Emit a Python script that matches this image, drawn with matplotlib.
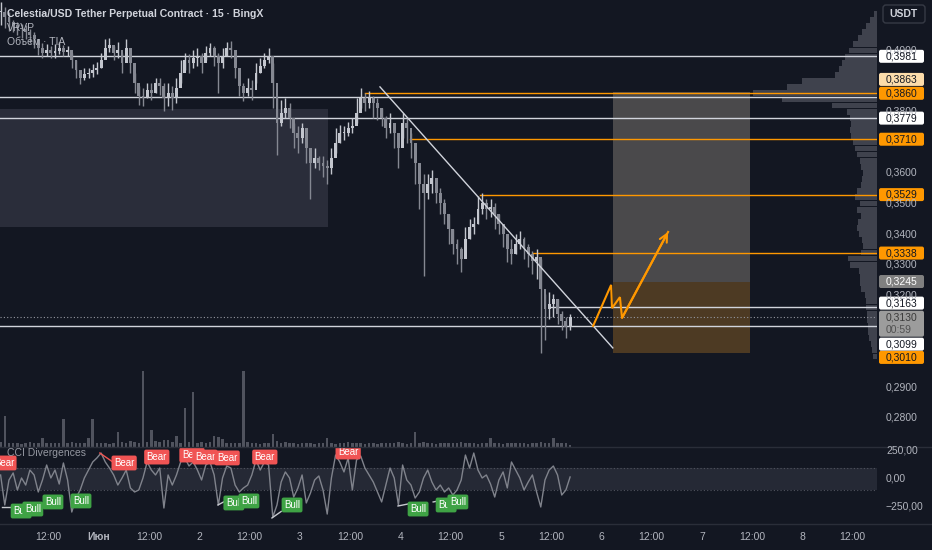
import numpy as np
import matplotlib
matplotlib.use("Agg")
import matplotlib.pyplot as plt
from matplotlib.patches import Rectangle, FancyBboxPatch

plt.rcParams['font.family'] = ['Liberation Sans', 'DejaVu Sans']

W, H, DPI = 932, 550, 100
BG = '#131722'

# ---------------- market data (hourly bars, time in hours from 31 May 00:00) ----------------
close = [0.4125, 0.4108, 0.4092, 0.4082, 0.4075, 0.4069, 0.4059, 0.4049, 0.4036, 0.4009,
         0.3993, 0.4003, 0.3993, 0.3999, 0.4009, 0.3996, 0.4003, 0.3970, 0.3937, 0.3911,
         0.3924, 0.3927, 0.3937, 0.3944, 0.3970, 0.4009, 0.4019, 0.3993, 0.4003, 0.3960,
         0.4009, 0.3960, 0.3894, 0.3852, 0.3845, 0.3871, 0.3861, 0.3894, 0.3884, 0.3845,
         0.3861, 0.3845, 0.3878, 0.3927, 0.3970, 0.3960, 0.3977, 0.3983, 0.3960, 0.3993,
         0.4009, 0.3983, 0.3960, 0.3983, 0.4009, 0.4003, 0.3944, 0.3884, 0.3861, 0.3878,
         0.3871, 0.3927, 0.3950, 0.3970, 0.3983, 0.3894, 0.3763, 0.3796, 0.3812, 0.3779,
         0.3730, 0.3713, 0.3746, 0.3681, 0.3631, 0.3648, 0.3631, 0.3621, 0.3615, 0.3648,
         0.3697, 0.3730, 0.3730, 0.3746, 0.3753, 0.3796, 0.3845, 0.3829, 0.3845, 0.3829,
         0.3812, 0.3779, 0.3746, 0.3763, 0.3730, 0.3681, 0.3763, 0.3746, 0.3697, 0.3631,
         0.3565, 0.3533, 0.3565, 0.3582, 0.3533, 0.3500, 0.3467, 0.3417, 0.3368, 0.3352,
         0.3319, 0.3385, 0.3424, 0.3434, 0.3483, 0.3500, 0.3483, 0.3490, 0.3467, 0.3434,
         0.3401, 0.3352, 0.3335, 0.3368, 0.3385, 0.3358, 0.3335, 0.3312, 0.3325, 0.3220,
         0.3154, 0.3171, 0.3187, 0.3138, 0.3115, 0.3095, 0.3130]
high = [0.4157, 0.4141, 0.4125, 0.4101, 0.4092, 0.4085, 0.4082, 0.4069, 0.4059, 0.4029,
        0.4026, 0.4022, 0.4016, 0.4022, 0.4029, 0.4019, 0.4016, 0.3993, 0.3970, 0.3937,
        0.3944, 0.3944, 0.3957, 0.3963, 0.3993, 0.4036, 0.4042, 0.4016, 0.4029, 0.3993,
        0.4036, 0.3993, 0.3927, 0.3884, 0.3878, 0.3894, 0.3894, 0.3911, 0.3911, 0.3894,
        0.3894, 0.3884, 0.3911, 0.3970, 0.3993, 0.3990, 0.4003, 0.4009, 0.3993, 0.4016,
        0.4026, 0.4016, 0.3993, 0.4009, 0.4029, 0.4032, 0.3983, 0.3917, 0.3894, 0.3911,
        0.3904, 0.3960, 0.3977, 0.3993, 0.4009, 0.3960, 0.3845, 0.3838, 0.3845, 0.3829,
        0.3763, 0.3753, 0.3763, 0.3720, 0.3664, 0.3681, 0.3654, 0.3654, 0.3641, 0.3681,
        0.3746, 0.3756, 0.3753, 0.3766, 0.3779, 0.3845, 0.3878, 0.3861, 0.3868, 0.3852,
        0.3845, 0.3812, 0.3786, 0.3796, 0.3763, 0.3730, 0.3796, 0.3779, 0.3730, 0.3681,
        0.3615, 0.3598, 0.3598, 0.3608, 0.3582, 0.3549, 0.3516, 0.3467, 0.3417, 0.3385,
        0.3358, 0.3424, 0.3450, 0.3457, 0.3523, 0.3533, 0.3516, 0.3516, 0.3500, 0.3467,
        0.3434, 0.3401, 0.3385, 0.3401, 0.3411, 0.3391, 0.3368, 0.3345, 0.3352, 0.3319,
        0.3204, 0.3210, 0.3204, 0.3187, 0.3148, 0.3128, 0.3138]
low = [0.4082, 0.4075, 0.4065, 0.4059, 0.4049, 0.4042, 0.4036, 0.4026, 0.4009, 0.3986,
       0.3977, 0.3983, 0.3977, 0.3977, 0.3990, 0.3983, 0.3983, 0.3944, 0.3911, 0.3891,
       0.3904, 0.3911, 0.3914, 0.3924, 0.3944, 0.3983, 0.3996, 0.3970, 0.3977, 0.3927,
       0.3983, 0.3927, 0.3861, 0.3822, 0.3819, 0.3845, 0.3838, 0.3861, 0.3855, 0.3802,
       0.3819, 0.3806, 0.3829, 0.3894, 0.3937, 0.3927, 0.3944, 0.3950, 0.3927, 0.3970,
       0.3983, 0.3950, 0.3861, 0.3944, 0.3983, 0.3977, 0.3911, 0.3852, 0.3835, 0.3852,
       0.3838, 0.3894, 0.3927, 0.3944, 0.3960, 0.3812, 0.3658, 0.3753, 0.3779, 0.3746,
       0.3681, 0.3664, 0.3697, 0.3631, 0.3516, 0.3615, 0.3608, 0.3588, 0.3565, 0.3598,
       0.3664, 0.3697, 0.3707, 0.3720, 0.3730, 0.3763, 0.3812, 0.3802, 0.3812, 0.3779,
       0.3773, 0.3753, 0.3713, 0.3730, 0.3681, 0.3615, 0.3713, 0.3697, 0.3648, 0.3565,
       0.3483, 0.3263, 0.3516, 0.3533, 0.3500, 0.3467, 0.3434, 0.3368, 0.3335, 0.3302,
       0.3276, 0.3345, 0.3385, 0.3401, 0.3434, 0.3467, 0.3450, 0.3457, 0.3417, 0.3401,
       0.3358, 0.3309, 0.3302, 0.3335, 0.3352, 0.3319, 0.3292, 0.3269, 0.3253, 0.3013,
       0.3055, 0.3121, 0.3128, 0.3105, 0.3088, 0.3062, 0.3088]
volume_k = [11, 70, 9, 8, 10, 7, 9, 11, 8, 10,
            20, 9, 8, 10, 9, 63, 8, 12, 10, 9,
            8, 20, 63, 9, 8, 10, 7, 9, 34, 11,
            9, 13, 12, 10, 170, 11, 38, 14, 12, 16,
            15, 11, 25, 9, 87, 12, 123, 10, 12, 9,
            11, 25, 22, 18, 9, 8, 10, 9, 170, 11,
            8, 9, 7, 8, 10, 29, 14, 9, 11, 8,
            9, 7, 8, 10, 9, 7, 8, 9, 20, 8,
            7, 9, 8, 12, 9, 10, 8, 7, 9, 8,
            7, 9, 8, 10, 9, 11, 8, 7, 9, 34,
            10, 12, 9, 8, 7, 9, 8, 10, 9, 8,
            11, 9, 8, 9, 7, 8, 9, 20, 8, 9,
            7, 9, 8, 10, 9, 8, 7, 9, 10, 12,
            9, 8, 20, 9, 8, 9, 5]
cci = [36, -232, -9, 54, -98, 9, -54, 80, 36, -116,
       -9, 125, 9, 80, -45, 143, -9, -295, -170, -98,
       9, 80, 152, 188, 232, 152, 98, 36, -54, 9,
       80, -80, -116, -98, 9, 152, 80, 36, 98, -259,
       36, -54, 36, 152, 188, 116, 152, 80, -9, 125,
       152, 36, -232, 9, 116, 98, -54, -116, -80, -54,
       36, 170, 80, 152, 125, -340, -232, -27, 63, 9,
       -161, -80, 36, -214, -125, -9, 27, -98, -313, 9,
       214, 152, 63, 188, -98, 170, 205, 98, 36, -27,
       -116, -205, -54, 98, 9, -232, 125, -9, -54, -170,
       -116, 9, 80, -27, -98, -54, -116, -80, -143, -98,
       -9, 214, 98, 232, 80, 9, 36, -45, -161, -9,
       63, -80, 152, 80, 9, -98, -27, 36, -116, -250,
       -9, 80, 116, 36, -143, -98, 18]

# visible-range volume profile (price bin centre, volume K)
vp_price = [0.300, 0.302, 0.304, 0.306, 0.308, 0.310, 0.312, 0.314, 0.316, 0.318,
            0.320, 0.322, 0.324, 0.326, 0.328, 0.330, 0.332, 0.334, 0.336, 0.338,
            0.340, 0.342, 0.344, 0.346, 0.348, 0.350, 0.352, 0.354, 0.356, 0.358,
            0.360, 0.362, 0.364, 0.366, 0.368, 0.370, 0.372, 0.374, 0.376, 0.378,
            0.380, 0.382, 0.384, 0.386, 0.388, 0.390, 0.392, 0.394, 0.396, 0.398,
            0.400, 0.402, 0.404, 0.406, 0.408, 0.410, 0.412]
vp_volume = [40, 50, 60, 80, 90, 90, 100, 100, 110, 110,
             120, 160, 170, 170, 180, 270, 290, 160, 140, 150,
             180, 200, 190, 160, 200, 170, 220, 200, 160, 150,
             140, 160, 170, 200, 220, 240, 260, 270, 260, 270,
             300, 450, 950, 1240, 900, 750, 420, 380, 350, 320,
             280, 240, 190, 150, 110, 70, 30]

# drawings
level_white = [0.3981, 0.3849, 0.3779, 0.3099]
level_white_partial = [0.3163]
level_white_partial_start = [131.7]
level_orange = [0.3860, 0.3710, 0.3529, 0.3338]
level_orange_start = [87.5, 98.3, 115.0, 127.6]
last_price = 0.3130
countdown = "00:59"

zone_time = [-5.0, 78.7]
zone_price = [0.3423, 0.3809]
pos_time = [146.7, 179.5]
pos_target, pos_entry, pos_stop = 0.3863, 0.3245, 0.3010
trend_time = [91.1, 146.7]
trend_price = [0.3881, 0.3028]
path_time = [142.0, 146.3, 146.5, 148.4, 148.9, 159.9]
path_price = [0.3100, 0.3234, 0.3158, 0.3194, 0.3126, 0.3407]

bear_time = [1.3, 30.0, 37.8, 46.2, 49.3, 54.6, 63.6, 83.5]
bear_cci = [143, 143, 196, 214, 196, 188, 196, 241]
bull_time = [5.4, 8.2, 13.0, 19.7, 56.2, 59.8, 70.1, 100.2, 106.9, 109.7]
bull_cci = [-286, -268, -205, -196, -214, -196, -232, -268, -232, -205]
bear_seg_time = [[24.2, 27.3]]
bear_seg_cci = [[232, 152]]
bull_seg_time = [[0.8, 4.7], [52.4, 55.5], [65.3, 67.5], [95.4, 99.0], [103.8, 107.2]]
bull_seg_cci = [[-250, -250], [-232, -170], [-348, -290], [-241, -214], [-205, -180]]

tick_hours = [12, 24, 36, 48, 60, 72, 84, 96, 108, 120, 132, 144, 156, 168, 180, 192, 204]
tick_labels = ["12:00", "Июн", "12:00", "2", "12:00", "3", "12:00", "4", "12:00",
               "5", "12:00", "6", "12:00", "7", "12:00", "8", "12:00"]
price_ticks = [0.28, 0.29, 0.30, 0.31, 0.32, 0.33, 0.34, 0.35, 0.36, 0.37, 0.38, 0.39, 0.40]
cci_ticks = [250, 0, -250]

# ---------------- figure & panes ----------------
fig = plt.figure(figsize=(W / DPI, H / DPI), dpi=DPI, facecolor=BG)
PLOT_R, PRICE_B, CCI_B = 877, 447, 524

ax_vp = fig.add_axes([0, 1 - PRICE_B / H, PLOT_R / W, PRICE_B / H])
ax = fig.add_axes([0, 1 - PRICE_B / H, PLOT_R / W, PRICE_B / H], sharey=ax_vp)
ax_vol = fig.add_axes([0, 1 - PRICE_B / H, PLOT_R / W, PRICE_B / H], sharex=ax)
ax_cci = fig.add_axes([0, 1 - CCI_B / H, PLOT_R / W, (CCI_B - PRICE_B) / H], sharex=ax)
ax_vp.set_zorder(1)
ax_vol.set_zorder(2)
ax.set_zorder(3)
for a in (ax_vp, ax, ax_vol, ax_cci):
    a.set_facecolor('none')
    for s in a.spines.values():
        s.set_visible(False)
    a.tick_params(left=False, bottom=False, labelleft=False, labelbottom=False)
ax_vp.set_facecolor(BG)
ax_cci.set_facecolor(BG)

ax.set_xlim(0.358, 209.79)
ax.set_ylim(0.27042, 0.4165)
ax_cci.set_ylim(-401.8, 285.7)
ax_vol.set_ylim(0, 1000)

# volume profile from the right edge
ax_vp.barh(vp_price, vp_volume, height=0.0019, left=0, color='#5d606b', alpha=0.6, lw=0)
ax_vp.set_xlim(max(vp_volume) / 0.1414, 0)

# candles
t = np.arange(len(close)) + 0.5
c = np.array(close)
o = np.r_[c[0], c[:-1]]
up = c >= o
col = np.where(up, '#c3c6ce', '#858892')
ax.vlines(t, low, high, colors=col, lw=1.0, zorder=4)
ax.bar(t, np.maximum(np.abs(c - o), 0.0003), bottom=np.minimum(o, c), width=0.7,
       color=col, lw=0, zorder=4)

# volume
ax_vol.bar(t, volume_k, width=0.6, color='#50535e', lw=0)

# zone & position
ax.add_patch(Rectangle((zone_time[0], zone_price[0]), zone_time[1] - zone_time[0],
                       zone_price[1] - zone_price[0], fc='#2a2d3a', ec='none', zorder=1))
ax.add_patch(Rectangle((pos_time[0], pos_entry), pos_time[1] - pos_time[0],
                       pos_target - pos_entry, fc='#4a494b', ec='none', zorder=1))
ax.add_patch(Rectangle((pos_time[0], pos_stop), pos_time[1] - pos_time[0],
                       pos_entry - pos_stop, fc='#4d3a23', ec='none', zorder=1))

# horizontal levels
for p in level_white:
    ax.axhline(p, color='#d1d4dc', lw=1, zorder=2)
for p, s in zip(level_white_partial, level_white_partial_start):
    ax.plot([s, 260], [p, p], color='#d1d4dc', lw=1, zorder=2)
for p, s in zip(level_orange, level_orange_start):
    ax.plot([s, 260], [p, p], color='#ff9800', lw=1, zorder=2)
ax.axhline(last_price, color='#9598a1', lw=0.8, ls=(0, (1, 2)), zorder=2)

# trend line and projected path
ax.plot(trend_time, trend_price, color='#d1d4dc', lw=1, zorder=5)
ax.plot(path_time, path_price, color='#ff9800', lw=1.5, zorder=6, solid_joinstyle='miter')
ax.annotate('', xy=(path_time[-1], path_price[-1]), xytext=(path_time[-2], path_price[-2]),
            arrowprops=dict(arrowstyle='->', color='#ff9800', lw=1.5, mutation_scale=14,
                            shrinkA=0, shrinkB=0), zorder=6)

# CCI pane
ax_cci.axhspan(-100, 100, color='#252935', lw=0, zorder=0)
for v in (-100, 100):
    ax_cci.axhline(v, color='#50535e', lw=0.8, ls=(0, (1, 2)), zorder=1)
ax_cci.plot(t, cci, color='#80838c', lw=1, zorder=2)
for st, sv in zip(bear_seg_time, bear_seg_cci):
    ax_cci.plot(st, sv, color='#f05350', lw=1, zorder=3)
for st, sv in zip(bull_seg_time, bull_seg_cci):
    ax_cci.plot(st, sv, color='#c8cad0', lw=1, zorder=3)
for bt, bv in zip(bear_time, bear_cci):
    ax_cci.text(bt, bv, 'Bear', ha='center', va='center', fontsize=7, color='white', zorder=5,
                bbox=dict(boxstyle='round,pad=0.25,rounding_size=0.2', fc='#f05454', ec='none'))
for bt, bv in zip(bull_time, bull_cci):
    ax_cci.text(bt, bv, 'Bull', ha='center', va='center', fontsize=7, color='white', zorder=5,
                bbox=dict(boxstyle='round,pad=0.25,rounding_size=0.2', fc='#3fa345', ec='none'))

# ---------------- overlay in pixel space: scales, labels, titles ----------------
ov = fig.add_axes([0, 0, 1, 1], facecolor='none', zorder=10)
ov.set_xlim(0, W)
ov.set_ylim(H, 0)
ov.axis('off')


def py(a, v):
    return H - a.transData.transform((1.0, v))[1]


def px(tt):
    return ax.transData.transform((tt, 0.3))[0]


ov.add_patch(Rectangle((PLOT_R, 0), W - PLOT_R, H, fc=BG, ec='none'))
ov.plot([0, W], [PRICE_B, PRICE_B], color='#2a2e39', lw=1)
ov.plot([0, W], [CCI_B, CCI_B], color='#2a2e39', lw=1)

AX_TXT = '#b2b5be'
TX = 886


def fmt(p):
    return f"{p:.4f}".replace('.', ',')


price_tags = [
    (0.3981, '#ffffff', '#131722', 0),
    (0.3863, '#fcdcab', '#131722', -13),
    (0.3860, '#ff9800', '#131722', 0),
    (0.3779, '#ffffff', '#131722', 0),
    (0.3710, '#ff9800', '#131722', 0),
    (0.3529, '#ff9800', '#131722', 0),
    (0.3338, '#ff9800', '#131722', 0),
    (0.3245, '#808080', '#ffffff', 0),
    (0.3163, '#ffffff', '#131722', -3.5),
    (0.3099, '#ffffff', '#131722', 18),
    (0.3010, '#ff9800', '#131722', 4),
]
tag_y = [py(ax, p) + dy for p, _, _, dy in price_tags]
cur_y = py(ax, last_price) + 1
covered = [(y - 5, y + 5) for y in tag_y] + [(cur_y - 5, cur_y + 17)]

# scale ticks, skipping the ones fully hidden under a tag
for p in price_ticks:
    y = py(ax, p)
    if any(lo <= y <= hi for lo, hi in covered):
        continue
    ov.text(TX, y, fmt(p), color=AX_TXT, fontsize=7.5, ha='left', va='center')
for v in cci_ticks:
    ov.text(TX, py(ax_cci, v), f"{v:.2f}".replace('.', ',').replace('-', '\u2212'),
            color=AX_TXT, fontsize=7.5, ha='left', va='center')

for (p, fc, tc, dy), y in zip(price_tags, tag_y):
    ov.add_patch(FancyBboxPatch((879, y - 6.5), 45, 13, boxstyle='round,pad=0,rounding_size=2',
                                fc=fc, ec='none'))
    ov.text(TX, y, fmt(p), color=tc, fontsize=7.5, ha='left', va='center')

# current price with bar countdown
ov.add_patch(FancyBboxPatch((879, cur_y - 7), 45, 26, boxstyle='round,pad=0,rounding_size=2',
                            fc='#9c9c9c', ec='none'))
ov.text(TX, cur_y, fmt(last_price), color='#3a3a3a', fontsize=7.5, ha='left', va='center')
ov.text(TX, cur_y + 12, countdown, color='#505050', fontsize=7.5, ha='left', va='center')

# currency button
ov.add_patch(FancyBboxPatch((883, 5), 42, 18, boxstyle='round,pad=0,rounding_size=3',
                            fc=BG, ec='#363a45', lw=1))
ov.text(904, 14, 'USDT', color='#d1d4dc', fontsize=7.5, ha='center', va='center', weight='bold')

# time axis
for h, lab in zip(tick_hours, tick_labels):
    ov.text(px(h), 537, lab, color=AX_TXT, fontsize=7.5, ha='center', va='center',
            weight='bold' if lab == 'Июн' else 'normal')

# legends
ov.text(7, 14, 'Celestia/USD Tether Perpetual Contract · 15 · BingX', color='#d1d4dc',
        fontsize=7.6, ha='left', va='center', weight='bold')
ov.text(7, 28, 'VRVP', color=AX_TXT, fontsize=7.5, ha='left', va='center')
ov.text(7, 42, 'Объём · TIA', color=AX_TXT, fontsize=7.5, ha='left', va='center')
ov.text(7, 453, 'CCI Divergences', color='#9598a1', fontsize=7.5, ha='left', va='center')

fig.savefig('out.png', dpi=DPI, facecolor=BG)
